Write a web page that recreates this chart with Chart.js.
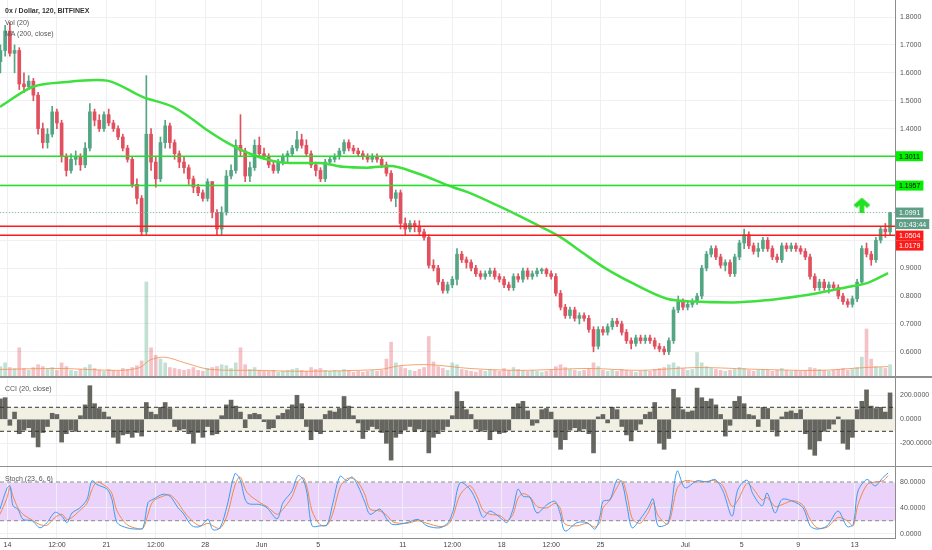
<!DOCTYPE html>
<html><head><meta charset="utf-8">
<script src="https://cdn.jsdelivr.net/npm/chart.js@4.4.1/dist/chart.umd.min.js"></script>
<style>
html,body{margin:0;padding:0;background:#fff;width:932px;height:550px;overflow:hidden;font-family:"Liberation Sans",Arial,sans-serif}
.pane{position:absolute;left:0;width:932px}
canvas{display:block}
.leg{position:absolute;left:5px;font-size:7px;color:#555;white-space:nowrap;z-index:5;line-height:8px}
.sep{position:absolute;left:0;width:932px;background:#8f8f8f;z-index:4}
</style></head><body>
<div class="pane" style="top:0;height:376px"><canvas id="cMain"></canvas></div>
<div class="pane" style="top:378px;height:88px"><canvas id="cCci"></canvas></div>
<div class="pane" style="top:467px;height:83px"><canvas id="cSto"></canvas></div>
<div class="sep" style="top:376px;height:2px"></div>
<div class="sep" style="top:466px;height:1px"></div>
<div class="leg" style="top:7px;font-weight:bold;color:#333;font-size:7px">0x / Dollar, 120, BITFINEX</div>
<div class="leg" style="top:19px">Vol (20)</div>
<div class="leg" style="top:30px">MA (200, close)</div>
<div class="leg" style="top:385px">CCI (20, close)</div>
<div class="leg" style="top:475px">Stoch (23, 6, 6)</div>
<script>
Chart.defaults.font.family = '"Liberation Sans", Arial, sans-serif';
Chart.defaults.font.size = 7;
Chart.defaults.color = '#555';
Chart.defaults.animation = false;

// ---------- data ----------
const XMIN = -0.53, XMAX = 62.85;              // days since May 14
const tickDays = [0,3.5,7,10.5,14,18,22,28,31.5,35,38.5,42,48,52,56,60];
const tickLabels = ['14','12:00','21','12:00','28','Jun','5','11','12:00','18','12:00','25','Jul','5','9','13'];
const priceTicks = [0.6,0.7,0.8,0.9,1.0,1.1,1.2,1.3,1.4,1.5,1.6,1.7,1.8];
const cciTicks = [200,0,-200];
const stochTicks = [80,40,0];

const T0 = -0.5, STEP = 1/3;   // 8h candles
const opens = [1.64,1.68,1.75,1.67,1.68,1.56,1.55,1.57,1.52,1.40,
1.35,1.38,1.46,1.42,1.30,1.25,1.29,1.30,1.27,1.33,
1.46,1.43,1.40,1.45,1.42,1.40,1.37,1.33,1.29,1.20,
1.15,1.03,1.38,1.28,1.22,1.35,1.41,1.35,1.31,1.28,
1.26,1.22,1.19,1.17,1.15,1.21,1.10,1.04,1.10,1.23,
1.25,1.34,1.32,1.23,1.26,1.34,1.31,1.30,1.27,1.25,
1.28,1.30,1.31,1.33,1.36,1.34,1.31,1.27,1.25,1.22,
1.28,1.29,1.30,1.32,1.35,1.33,1.32,1.31,1.30,1.29,
1.30,1.29,1.27,1.24,1.15,1.17,1.06,1.04,1.06,1.05,
1.03,1.01,0.91,0.90,0.85,0.82,0.84,0.86,0.95,0.93,
0.92,0.90,0.88,0.87,0.88,0.89,0.87,0.86,0.84,0.83,
0.87,0.86,0.89,0.87,0.88,0.89,0.895,0.88,0.87,0.81,
0.76,0.73,0.75,0.72,0.73,0.72,0.68,0.62,0.68,0.67,
0.69,0.71,0.70,0.67,0.64,0.63,0.65,0.64,0.65,0.64,
0.62,0.61,0.60,0.64,0.75,0.78,0.76,0.77,0.78,0.80,
0.90,0.95,0.97,0.94,0.91,0.92,0.88,0.94,0.99,1.02,
0.98,0.96,0.97,1.00,0.97,0.94,0.93,0.98,0.97,0.98,
0.97,0.96,0.94,0.87,0.83,0.85,0.83,0.84,0.83,0.80,
0.78,0.77,0.79,0.85,0.97,0.95,0.93,1.00,1.04,1.03];
const highs = [1.70,1.77,1.78,1.70,1.69,1.60,1.59,1.58,1.53,1.42,
1.40,1.48,1.47,1.43,1.31,1.31,1.32,1.31,1.35,1.49,
1.47,1.45,1.46,1.47,1.43,1.41,1.38,1.34,1.30,1.22,
1.16,1.59,1.40,1.30,1.37,1.43,1.42,1.36,1.32,1.30,
1.27,1.23,1.20,1.18,1.22,1.21,1.11,1.12,1.25,1.27,
1.36,1.45,1.33,1.28,1.36,1.37,1.33,1.31,1.28,1.29,
1.31,1.32,1.34,1.39,1.38,1.36,1.32,1.28,1.26,1.29,
1.30,1.31,1.33,1.36,1.36,1.34,1.33,1.32,1.31,1.31,
1.31,1.30,1.28,1.25,1.18,1.18,1.08,1.07,1.07,1.07,
1.04,1.02,0.93,0.91,0.86,0.85,0.87,0.97,0.96,0.94,
0.93,0.91,0.89,0.89,0.90,0.90,0.88,0.87,0.85,0.88,
0.88,0.90,0.90,0.89,0.90,0.90,0.90,0.89,0.88,0.82,
0.77,0.76,0.76,0.74,0.74,0.73,0.69,0.69,0.69,0.70,
0.72,0.72,0.71,0.68,0.65,0.66,0.66,0.66,0.66,0.65,
0.63,0.62,0.65,0.76,0.80,0.79,0.78,0.79,0.81,0.91,
0.96,0.98,0.98,0.95,0.93,0.93,0.95,1.00,1.04,1.03,
0.99,0.99,1.01,1.01,0.98,0.95,0.99,0.99,0.99,0.99,
0.98,0.97,0.95,0.88,0.86,0.86,0.85,0.85,0.84,0.81,
0.79,0.80,0.86,0.98,0.99,0.96,1.01,1.05,1.06,1.10];
const lows = [1.60,1.66,1.66,1.60,1.54,1.53,1.54,1.50,1.38,1.33,
1.33,1.37,1.40,1.28,1.23,1.24,1.27,1.25,1.26,1.32,
1.41,1.39,1.39,1.41,1.39,1.36,1.32,1.28,1.19,1.13,
1.018,1.02,1.25,1.19,1.21,1.33,1.33,1.29,1.26,1.24,
1.20,1.17,1.16,1.14,1.14,1.08,1.02,1.02,1.09,1.22,
1.24,1.30,1.21,1.21,1.25,1.30,1.29,1.26,1.24,1.24,
1.27,1.28,1.30,1.32,1.33,1.30,1.26,1.23,1.21,1.21,
1.27,1.28,1.29,1.31,1.32,1.31,1.30,1.29,1.28,1.28,
1.28,1.26,1.23,1.14,1.12,1.04,1.02,1.03,1.03,1.02,
1.00,0.90,0.89,0.84,0.81,0.81,0.83,0.84,0.92,0.90,
0.89,0.87,0.86,0.86,0.87,0.86,0.85,0.83,0.82,0.82,
0.85,0.85,0.86,0.86,0.87,0.88,0.87,0.86,0.80,0.75,
0.72,0.72,0.71,0.70,0.71,0.67,0.60,0.61,0.66,0.66,
0.68,0.69,0.66,0.63,0.61,0.62,0.63,0.63,0.63,0.61,
0.60,0.59,0.59,0.63,0.74,0.75,0.75,0.76,0.77,0.79,
0.89,0.94,0.93,0.90,0.89,0.87,0.87,0.93,0.97,0.97,
0.95,0.94,0.96,0.96,0.93,0.92,0.92,0.96,0.96,0.96,
0.95,0.93,0.86,0.82,0.82,0.82,0.81,0.82,0.79,0.77,
0.76,0.76,0.78,0.84,0.94,0.91,0.92,0.99,1.01,1.02];
const closes = [1.68,1.75,1.67,1.68,1.56,1.55,1.57,1.52,1.40,1.35,
1.38,1.46,1.42,1.30,1.25,1.29,1.30,1.27,1.33,1.46,
1.43,1.40,1.45,1.42,1.40,1.37,1.33,1.29,1.20,1.15,
1.03,1.38,1.28,1.22,1.35,1.41,1.35,1.31,1.28,1.26,
1.22,1.19,1.17,1.15,1.21,1.10,1.04,1.10,1.23,1.25,
1.34,1.32,1.23,1.26,1.34,1.31,1.30,1.27,1.25,1.28,
1.30,1.31,1.33,1.36,1.34,1.31,1.27,1.25,1.22,1.28,
1.29,1.30,1.32,1.35,1.33,1.32,1.31,1.30,1.29,1.30,
1.29,1.27,1.24,1.15,1.17,1.06,1.04,1.06,1.05,1.03,
1.01,0.91,0.90,0.85,0.82,0.84,0.86,0.95,0.93,0.92,
0.90,0.88,0.87,0.88,0.89,0.87,0.86,0.84,0.83,0.87,
0.86,0.89,0.87,0.88,0.89,0.895,0.88,0.87,0.81,0.76,
0.73,0.75,0.72,0.73,0.72,0.68,0.62,0.68,0.67,0.69,
0.71,0.70,0.67,0.64,0.63,0.65,0.64,0.65,0.64,0.62,
0.61,0.60,0.64,0.75,0.78,0.76,0.77,0.78,0.80,0.90,
0.95,0.97,0.94,0.91,0.92,0.88,0.94,0.99,1.02,0.98,
0.96,0.97,1.00,0.97,0.94,0.93,0.98,0.97,0.98,0.97,
0.96,0.94,0.87,0.83,0.85,0.83,0.84,0.83,0.80,0.78,
0.77,0.79,0.85,0.97,0.95,0.93,1.00,1.04,1.03,1.0991];
const volumes = [10,14,9,8,30,8,6,9,12,10,
7,9,6,14,10,6,5,7,9,12,
8,6,5,7,6,5,8,7,9,11,
16,100,30,22,18,14,9,8,7,6,
7,9,6,5,8,9,10,12,11,8,
14,30,12,7,9,6,5,5,6,4,
5,6,7,8,6,5,9,7,8,6,
5,6,5,7,6,4,5,4,5,6,
5,6,18,36,14,10,8,6,5,7,
9,42,15,10,8,6,14,12,7,6,
5,4,6,5,7,6,5,8,6,9,
7,6,5,6,5,4,5,6,10,12,
9,7,6,5,6,8,14,10,6,5,
6,5,7,6,5,4,5,6,5,7,
8,9,12,14,10,8,6,7,25,14,
10,8,7,6,5,6,7,9,8,6,
5,6,7,6,5,6,8,6,5,6,
5,6,9,8,7,6,5,6,7,8,
6,7,9,20,50,18,10,9,8,12];
const cciValues = [170,180,-50,60,-120,-90,-70,-150,-230,-110,
-60,50,40,-190,-120,-90,-100,30,120,280,
130,90,60,20,-150,-200,-130,-120,-150,-110,
-140,140,60,40,100,140,90,-60,-90,-80,
-120,-200,-110,-150,-60,-130,-120,30,120,160,
110,60,-70,40,50,40,-20,-80,-70,30,
50,80,120,200,130,-60,-170,-100,-120,40,
70,60,90,190,110,30,-30,-160,-90,-60,
-80,-110,-200,-340,-150,-120,-90,-60,-100,-80,
-100,-280,-150,-120,-90,-60,30,230,150,80,
40,-80,-100,-90,-170,-100,-120,-110,-90,100,
130,150,70,-50,-30,80,90,60,-150,-250,
-170,-90,-70,-100,-80,-120,-280,20,40,-30,
100,80,-60,-130,-180,-90,-40,40,60,140,
-200,-250,-160,250,180,80,60,70,260,180,
150,170,120,40,-140,-50,150,190,130,40,
30,-60,100,90,-90,-140,20,60,70,50,
80,-120,-250,-300,-180,-100,-80,-40,20,-200,
-250,-150,80,150,245,110,90,100,60,220];

const maTimes = [-0.53,1.81,4.21,6.34,7.05,9.6,11.72,12.92,14.13,15.55,17.17,18.8,20.0,22.13,23.76,25.46,27.09,29.0,31.55,32.54,34.88,37.22,39.13,40.76,42.32,44.3,46.71,48.55,51.38,53.79,56.13,57.33,59.88,60.87,62.36];
const maValues = [1.478,1.55,1.567,1.574,1.572,1.513,1.478,1.44,1.395,1.35,1.31,1.284,1.277,1.277,1.263,1.26,1.266,1.24,1.19,1.173,1.12,1.062,1.012,0.954,0.90,0.845,0.79,0.78,0.777,0.785,0.80,0.81,0.836,0.846,0.882];
const volMaTimes = [-0.53,3.72,7.97,9.38,10.09,11.15,12.57,14.34,17.88,20.72,26.38,27.8,29.92,32.75,36.3,41.25,44.79,48.83,53.29,57.54,60.73,62.36];
const volMaValues = [7,8,6,9,17,20,14,7,6,5,7,11,12,8,6,8,6,9,7,6,9,10];

const stochTimes = [-0.53,-0.04,0.18,0.39,0.74,1.10,1.74,2.30,2.80,3.36,3.86,4.21,4.57,5.13,5.63,5.98,6.34,7.05,7.40,7.76,8.46,9.17,9.60,9.95,10.30,11.01,11.51,12.08,12.43,13.07,13.63,14.20,14.55,15.05,15.55,16.11,16.47,16.96,17.88,18.38,19.09,19.51,20.15,20.57,20.93,21.21,21.57,22.13,22.63,23.05,23.55,24.04,24.40,24.82,25.32,25.67,26.38,26.88,27.30,28.29,29.07,29.71,30.63,31.20,31.55,32.05,32.75,33.25,33.68,34.17,34.88,35.37,35.80,36.15,36.51,37.00,37.50,38.21,38.77,39.13,39.48,40.33,41.04,41.61,41.96,42.17,42.67,43.17,43.52,43.87,44.23,44.79,45.36,45.72,46.07,46.78,47.42,47.98,48.83,49.54,50.11,50.67,51.31,51.73,52.37,52.80,53.44,53.79,54.36,54.85,55.63,56.34,56.84,57.33,58.04,58.82,59.46,59.88,60.23,60.87,61.44,62.00,62.36];
const stochK = [38,70,74,43,38,22,20,9,17,33,27,17,32,40,53,82,76,69,53,17,9,7,9,48,53,61,58,40,32,12,11,22,6,9,43,93,84,48,45,40,23,48,66,90,84,63,12,12,14,48,89,82,88,74,48,30,38,22,14,17,22,12,9,17,35,79,69,48,25,35,25,17,38,69,58,56,32,45,50,32,4,17,17,7,27,50,53,84,79,43,9,22,40,54,12,17,97,71,82,80,84,66,27,69,83,61,43,63,32,53,50,40,12,7,12,35,11,14,66,84,74,87,94];
const stochD = [30,55,72,58,40,30,21,14,13,25,30,22,25,36,47,68,80,72,62,35,14,8,8,30,50,58,60,48,36,20,12,16,12,8,28,75,88,64,48,42,30,38,57,80,87,72,35,14,13,32,72,85,86,80,60,38,35,28,18,16,20,16,11,14,27,60,74,58,36,30,28,20,30,55,62,57,42,40,47,40,15,12,16,10,18,40,52,72,82,60,24,16,32,48,28,15,70,82,80,81,82,74,42,52,78,70,52,56,42,45,51,44,22,9,10,25,20,12,45,76,80,82,90];

const resistanceLevels = [1.3011, 1.1957];
const supportLevels = [1.0504, 1.0179];
const lastPrice = 1.0991;
const countdownText = '01:43:44';
const arrowTime = [60.5];
const arrowPrice = [1.126];
const cciBand = [-100, 100];
const stochBand = [20, 80];

// ---------- styles ----------
const UP = '#53a584', DOWN = '#e0505e';
const UPV = 'rgba(83,165,132,0.35)', DOWNV = 'rgba(224,80,94,0.35)';
const GREEN = '#22e022', RED = '#ff1a1a', TEAL = '#5f9f88';
const GRID = '#eef0f3';

const times = opens.map((_, i) => T0 + i * STEP);
const isUp = closes.map((c, i) => c >= opens[i]);
const hline = v => [{x: XMIN, y: v}, {x: XMAX, y: v}];

function xScale(showLabels) {
  return {
    type: 'linear', min: XMIN, max: XMAX, offset: false,
    grid: {color: GRID, drawTicks: false, offset: false},
    border: {display: showLabels, color: '#8c8c8c'},
    ticks: {display: showLabels, autoSkip: false, maxRotation: 0, padding: 3, color: '#444',
      callback: (v, i) => tickLabels[i]},
    afterBuildTicks: s => { s.ticks = tickDays.map(v => ({value: v})); },
    afterFit: s => { s.paddingLeft = 0; s.paddingRight = 0; s.height = showLabels ? 12 : 0; }
  };
}
function yScale(min, max, vals) {
  return {
    position: 'right', min, max,
    grid: {color: GRID, drawTicks: false},
    border: {display: true, color: '#8c8c8c'},
    ticks: {autoSkip: false, padding: 5, color: '#555', callback: (v, i) => vals[i].toFixed(4)},
    afterBuildTicks: s => { s.ticks = vals.map(v => ({value: v})); },
    afterFit: s => { s.width = 37; s.paddingTop = 0; s.paddingBottom = 0; }
  };
}
const bandPlugin = {
  id: 'band',
  beforeDraw(chart, args, opts) {
    if (!opts || opts.lo === undefined) return;
    const {ctx, chartArea: a} = chart, y = chart.scales.y;
    const t = y.getPixelForValue(opts.hi), b = y.getPixelForValue(opts.lo);
    ctx.save(); ctx.fillStyle = opts.color; ctx.fillRect(a.left, t, a.right - a.left, b - t); ctx.restore();
  }
};
const priceLabelPlugin = {
  id: 'plabels',
  afterDraw(chart) {
    const {ctx, chartArea: a} = chart, y = chart.scales.y;
    const boxes = [];
    resistanceLevels.forEach(v => boxes.push({v, t: v.toFixed(4), bg: '#00f000', fg: '#000'}));
    boxes.push({v: lastPrice, t: lastPrice.toFixed(4), bg: TEAL, fg: '#fff'});
    boxes.push({v: lastPrice, t: countdownText, bg: TEAL, fg: '#fff'});
    supportLevels.forEach(v => boxes.push({v, t: v.toFixed(4), bg: RED, fg: '#fff'}));
    ctx.save();
    ctx.font = '7px "Liberation Sans", Arial, sans-serif';
    ctx.textBaseline = 'middle';
    let prevBottom = -1e9, prevBg = null;
    const h = 10;
    boxes.forEach(bx => {
      let top = y.getPixelForValue(bx.v) - h / 2;
      const gap = prevBg === bx.bg && bx.bg === RED ? 0 : 1.5;
      if (top < prevBottom + gap) top = prevBottom + gap;
      const w = ctx.measureText(bx.t).width + 6;
      ctx.fillStyle = bx.bg;
      ctx.fillRect(a.right + 1, top, w, h);
      ctx.fillStyle = bx.fg;
      ctx.fillText(bx.t, a.right + 4, top + h / 2 + 0.5);
      prevBottom = top + h; prevBg = bx.bg;
    });
    ctx.restore();
  }
};
function makeArrow() {
  const c = document.createElement('canvas'); c.width = 18; c.height = 15;
  const g = c.getContext('2d'); g.fillStyle = GREEN; g.beginPath();
  g.moveTo(9, 0); g.lineTo(17.5, 7.5); g.lineTo(14, 10.5); g.lineTo(11.4, 7.8); g.lineTo(11.4, 15);
  g.lineTo(6.6, 15); g.lineTo(6.6, 7.8); g.lineTo(4, 10.5); g.lineTo(0.5, 7.5); g.closePath(); g.fill();
  return c;
}
const baseOpts = {
  responsive: true, maintainAspectRatio: false, animation: false,
  layout: {padding: 0, autoPadding: false},
  events: [], plugins: {legend: {display: false}, tooltip: {enabled: false}}
};

// ---------- main pane ----------
new Chart(document.getElementById('cMain'), {
  type: 'bar',
  data: {datasets: [
    {type: 'bar', yAxisID: 'yv', order: 9, grouped: false, barThickness: 3, borderWidth: 0,
      data: times.map((t, i) => ({x: t, y: volumes[i]})),
      backgroundColor: isUp.map(u => u ? UPV : DOWNV)},
    {type: 'line', yAxisID: 'yv', order: 8, borderColor: 'rgba(240,150,90,0.85)', borderWidth: 1, pointRadius: 0,
      data: volMaTimes.map((t, i) => ({x: t, y: volMaValues[i]})), tension: 0.3},
    {type: 'bar', order: 7, grouped: false, barThickness: 1, borderWidth: 0,
      data: times.map((t, i) => ({x: t, y: [lows[i], highs[i]]})),
      backgroundColor: isUp.map(u => u ? UP : DOWN)},
    {type: 'bar', order: 6, grouped: false, barThickness: 3, borderWidth: 0, minBarLength: 1,
      data: times.map((t, i) => ({x: t, y: [opens[i], closes[i]]})),
      backgroundColor: isUp.map(u => u ? UP : DOWN)},
    {type: 'line', order: 5, borderColor: '#3ee03e', borderWidth: 2.5, pointRadius: 0, cubicInterpolationMode: 'monotone',
      data: maTimes.map((t, i) => ({x: t, y: maValues[i]}))},
    ...resistanceLevels.map(v => ({type: 'line', order: 2, borderColor: GREEN, borderWidth: 1.5, pointRadius: 0, data: hline(v)})),
    ...supportLevels.map(v => ({type: 'line', order: 2, borderColor: RED, borderWidth: 1.5, pointRadius: 0, data: hline(v)})),
    {type: 'line', order: 3, borderColor: '#7fbfa8', borderWidth: 1, borderDash: [1, 2], pointRadius: 0, data: hline(lastPrice)},
    {type: 'scatter', order: 1, pointStyle: makeArrow(), pointRadius: 9,
      data: arrowTime.map((t, i) => ({x: t, y: arrowPrice[i]}))}
  ]},
  options: {...baseOpts,
    scales: {x: xScale(false), y: yScale(0.5133, 1.861, priceTicks), yv: {display: false, min: 0, max: 400}}},
  plugins: [priceLabelPlugin]
});

// ---------- CCI pane ----------
new Chart(document.getElementById('cCci'), {
  type: 'bar',
  data: {datasets: [
    {type: 'bar', order: 3, grouped: false, barThickness: 4, borderWidth: 0, backgroundColor: '#666661',
      data: times.map((t, i) => ({x: t, y: cciValues[i]}))},
    ...cciBand.map(v => ({type: 'line', order: 1, borderColor: '#333', borderWidth: 1, borderDash: [4, 3], pointRadius: 0, data: hline(v)}))
  ]},
  options: {...baseOpts,
    plugins: {...baseOpts.plugins, band: {lo: cciBand[0], hi: cciBand[1], color: '#f2f0e2'}},
    scales: {x: xScale(false), y: yScale(-389, 344, cciTicks)}},
  plugins: [bandPlugin]
});

// ---------- Stoch pane ----------
new Chart(document.getElementById('cSto'), {
  type: 'line',
  data: {datasets: [
    {order: 2, borderColor: '#f08a4b', borderWidth: 1, pointRadius: 0, tension: 0.3,
      data: stochTimes.map((t, i) => ({x: t, y: stochD[i]}))},
    {order: 1, borderColor: '#3d9bf0', borderWidth: 1, pointRadius: 0, tension: 0.3,
      data: stochTimes.map((t, i) => ({x: t, y: stochK[i]}))},
    ...stochBand.map(v => ({order: 3, borderColor: '#8a8a8a', borderWidth: 1, borderDash: [4, 3], pointRadius: 0, data: hline(v)}))
  ]},
  options: {...baseOpts,
    plugins: {...baseOpts.plugins, band: {lo: stochBand[0], hi: stochBand[1], color: '#ead2fb'}},
    scales: {x: xScale(true), y: yScale(-6.8, 103.3, stochTicks)}},
  plugins: [bandPlugin]
});
</script>
</body></html>
